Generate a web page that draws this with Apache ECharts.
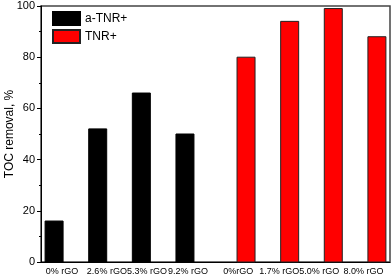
<!DOCTYPE html>
<html><head><meta charset="utf-8">
<script src="https://cdn.jsdelivr.net/npm/echarts@6/dist/echarts.min.js"></script>
<style>html,body{margin:0;padding:0;background:#fff}#c{width:392px;height:277px}</style>
</head><body><div id="c"></div>
<script>
const seriesNames = ["a-TNR+", "TNR+"];
const aTnrX = [0.3, 1.3, 2.3, 3.3];
const aTnrValues = [16, 52, 66, 50];
const tnrX = [4.7, 5.7, 6.7, 7.7];
const tnrValues = [80, 94, 99, 88];
const tickLabels = ["0% rGO", "2.6% rGO", "5.3% rGO", "9.2% rGO", "0%rGO", "1.7% rGO", "5.0% rGO", "8.0% rGO"];
const tickLabelX = [0.48, 1.51, 2.43, 3.37, 4.52, 5.46, 6.38, 7.39];

const chart = echarts.init(document.getElementById('c'), null, {renderer: 'canvas'});
const font = 'Liberation Sans, Arial, sans-serif';
const BAR_W = 18;

function barRenderer(fill, stroke) {
  return function (params, api) {
    const x = api.value(0), y = api.value(1);
    const top = api.coord([x, y]);
    const base = api.coord([x, 0]);
    return {
      type: 'rect',
      shape: {x: top[0] - BAR_W / 2, y: top[1], width: BAR_W, height: base[1] - top[1]},
      style: {fill: fill, stroke: stroke, lineWidth: 1}
    };
  };
}

chart.setOption({
  animation: false,
  textStyle: {fontFamily: font},
  grid: {left: 41, right: 2, top: 6, bottom: 15, show: true, borderColor: '#444', borderWidth: 1.5,
         containLabel: false, outerBoundsMode: 'none'},
  legend: {
    orient: 'vertical', left: 52, top: 11, padding: 0, itemWidth: 27, itemHeight: 13, itemGap: 3,
    icon: 'rect',
    textStyle: {fontSize: 12, color: '#000', fontFamily: font},
    data: seriesNames
  },
  xAxis: {
    type: 'value', min: 0, max: 8,
    axisLine: {show: true, onZero: false, lineStyle: {color: '#000', width: 1}},
    axisTick: {show: false},
    splitLine: {show: false},
    axisLabel: {
      customValues: tickLabelX,
      fontSize: 9, color: '#000', margin: 5, hideOverlap: false,
      formatter: function (v) {
        const i = tickLabelX.findIndex(p => Math.abs(p - v) < 1e-6);
        return i >= 0 ? tickLabels[i] : '';
      }
    }
  },
  yAxis: {
    type: 'value', min: 0, max: 100, interval: 20,
    name: 'TOC removal, %', nameLocation: 'middle', nameGap: 25, nameMoveOverlap: false,
    nameTextStyle: {fontSize: 12, color: '#000', fontFamily: font},
    axisLine: {show: true, lineStyle: {color: '#000', width: 1}},
    axisTick: {show: true, length: 4, lineStyle: {color: '#000'}},
    minorTick: {show: true, splitNumber: 2, length: 2, lineStyle: {color: '#000'}},
    splitLine: {show: false},
    axisLabel: {fontSize: 11, color: '#000', margin: 6}
  },
  series: [
    {
      name: seriesNames[0], type: 'custom',
      itemStyle: {color: '#000', borderColor: '#000', borderWidth: 1},
      encode: {x: 0, y: 1},
      renderItem: barRenderer('#000', '#000'),
      data: aTnrX.map((x, i) => [x, aTnrValues[i]])
    },
    {
      name: seriesNames[1], type: 'custom',
      itemStyle: {color: '#ff0000', borderColor: '#222', borderWidth: 1},
      encode: {x: 0, y: 1},
      renderItem: barRenderer('#ff0000', '#222'),
      data: tnrX.map((x, i) => [x, tnrValues[i]])
    }
  ]
});
</script></body></html>
